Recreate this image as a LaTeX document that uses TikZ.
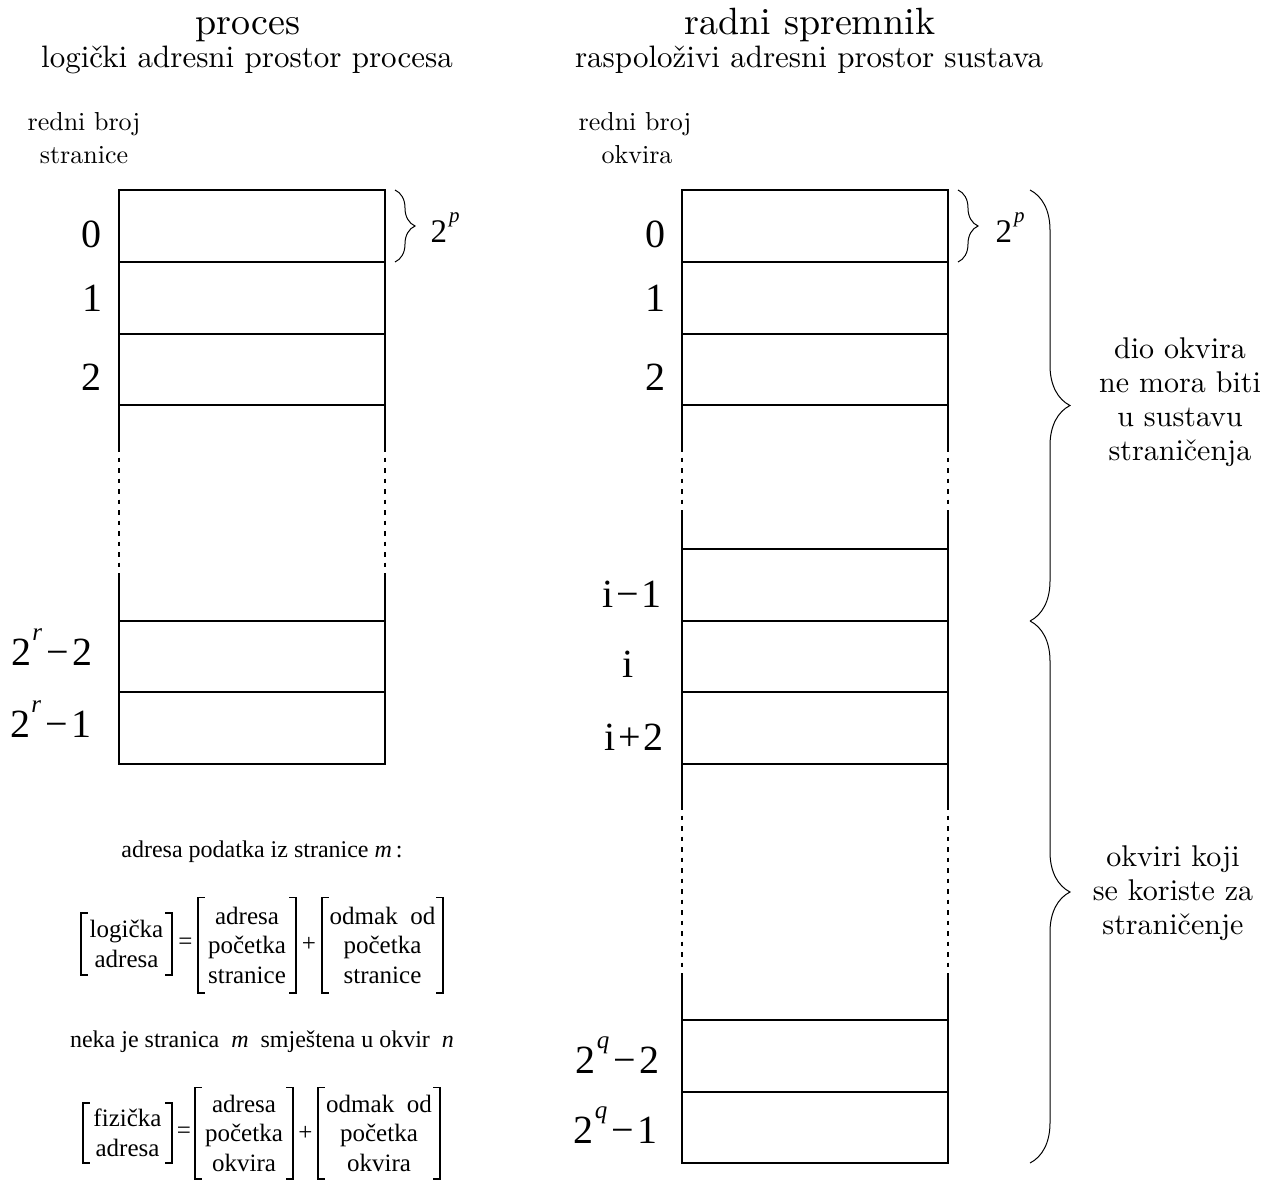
\documentclass[tikz,border=0pt]{standalone}
\usepackage{fontspec}
\newfontfamily\tnr{Liberation Serif}
\newfontfamily\lmten{lmroman10-regular}[Extension=.otf]
\usetikzlibrary{decorations.pathreplacing,calc}
\tikzset{
  x=1pt, y=-1pt,
  row/.style={draw, line width=1.8pt, minimum width=266pt, minimum height=#1, inner sep=0pt, outer sep=0pt},
  row/.default=72pt,
  side/.style={line width=1.8pt},
  dside/.style={line width=1.8pt, dash pattern=on 4.5pt off 6pt},
  num/.style={anchor=base, inner sep=0pt, font=\tnr\fontsize{40}{48}\selectfont},
  title/.style={anchor=base, inner sep=0pt, font=\lmten\fontsize{38}{46}\selectfont},
  subtitle/.style={anchor=base, inner sep=0pt, font=\lmten\fontsize{31}{37}\selectfont},
  hdr/.style={anchor=base, inner sep=0pt, align=center, font=\lmten\fontsize{26}{31}\selectfont},
  blabel/.style={anchor=north, inner sep=0pt, align=center, font=\lmten\fontsize{30}{34}\selectfont},
  brc/.style={decorate, decoration={brace, amplitude=#1}, line width=1pt},
  ftext/.style={anchor=base, inner sep=0pt, font=\tnr\fontsize{24}{29}\selectfont},
  cell/.style={inner xsep=0pt, inner ysep=0pt, minimum height=#1, font=\tnr\fontsize{25}{29.5}\selectfont, align=center},
  op/.style={inner sep=0pt, font=\tnr\fontsize{25}{30}\selectfont},
  brk/.style={line width=1.6pt}
}
\newcommand{\supx}[1]{\kern1pt\raisebox{0.62em}{\fontsize{25}{25}\selectfont\textit{#1}}}
\begin{document}
\begin{tikzpicture}
\useasboundingbox (0,0) rectangle (1269,1180);
% headings
\node[title] (tp) at (248,35) {proces};
\node[subtitle] (sp) at (247,68) {logički adresni prostor procesa};
\node[title] (tr) at (810,35) {radni spremnik};
\node[subtitle] (sr) at (809,68) {raspoloživi adresni prostor sustava};
\node[hdr] (hl1) at (84,131) {redni broj};
\node[hdr] (hl2) at (84,164) {stranice};
\node[hdr] (hr1) at (635,131) {redni broj};
\node[hdr] (hr2) at (637,164) {okvira};
% left column rows
\node[row] (L0) at (252,226) {};
\node[row] (L1) at (252,298) {};
\node[row=71pt] (L2) at (252,369.5) {};
\node[row=71pt] (Lr2) at (252,656.5) {};
\node[row] (Lr1) at (252,728) {};
% left gap
\coordinate (la1) at ($(L2.south west)+(0,42)$);
\coordinate (la2) at ($(Lr2.north west)+(0,-44)$);
\coordinate (lb1) at ($(L2.south east)+(0,42)$);
\coordinate (lb2) at ($(Lr2.north east)+(0,-44)$);
\draw[side] (L2.south west) -- (la1);
\draw[dside] (la1) -- (la2);
\draw[side] (la2) -- (Lr2.north west);
\draw[side] (L2.south east) -- (lb1);
\draw[dside] (lb1) -- (lb2);
\draw[side] (lb2) -- (Lr2.north east);
% right column rows
\node[row] (R0) at (815,226) {};
\node[row] (R1) at (815,298) {};
\node[row=71pt] (R2) at (815,369.5) {};
\node[row] (Ri1) at (815,585) {};
\node[row=71pt] (Ri) at (815,656.5) {};
\node[row] (Ri2) at (815,728) {};
\node[row] (Rq2) at (815,1056) {};
\node[row=71pt] (Rq1) at (815,1127.5) {};
% right gap 1
\coordinate (ra1) at ($(R2.south west)+(0,42)$);
\coordinate (ra2) at ($(Ri1.north west)+(0,-39)$);
\coordinate (rb1) at ($(R2.south east)+(0,42)$);
\coordinate (rb2) at ($(Ri1.north east)+(0,-39)$);
\draw[side] (R2.south west) -- (ra1);
\draw[dside] (ra1) -- (ra2);
\draw[side] (ra2) -- (Ri1.north west);
\draw[side] (R2.south east) -- (rb1);
\draw[dside] (rb1) -- (rb2);
\draw[side] (rb2) -- (Ri1.north east);
% right gap 2
\coordinate (rc1) at ($(Ri2.south west)+(0,41)$);
\coordinate (rc2) at ($(Rq2.north west)+(0,-43)$);
\coordinate (rd1) at ($(Ri2.south east)+(0,41)$);
\coordinate (rd2) at ($(Rq2.north east)+(0,-43)$);
\draw[side] (Ri2.south west) -- (rc1);
\draw[dside] (rc1) -- (rc2);
\draw[side] (rc2) -- (Rq2.north west);
\draw[side] (Ri2.south east) -- (rd1);
\draw[dside] (rd1) -- (rd2);
\draw[side] (rd2) -- (Rq2.north east);
% left numbers
\node[num] (nl0) at (91,247) {0};
\node[num] (nl1) at (92,311) {1};
\node[num] (nl2) at (91,390) {2};
\node[num] (nlr2) at (52,665) {2\supx{r}\kern4pt−\kern4pt2};
\node[num] (nlr1) at (51,737) {2\supx{r}\kern4pt−\kern4pt1};
% right numbers
\node[num] (nr0) at (655,247) {0};
\node[num] (nr1) at (655,311) {1};
\node[num] (nr2) at (655,390) {2};
\node[num] (nri1) at (632,607) {i\kern3pt−\kern3pt1};
\node[num] (nri) at (628,677) {i};
\node[num] (nri2) at (634,750) {i\kern3pt+\kern3pt2};
\node[num] (nrq2) at (618,1073) {2\supx{q}\kern4pt−\kern4pt2};
\node[num] (nrq1) at (616,1143) {2\supx{q}\kern4pt−\kern4pt1};
% small braces
\coordinate (bl1) at (395,190);
\coordinate (bl2) at (395,262);
\draw[brc=20pt] (bl1) -- (bl2);
\node[num, font=\tnr\fontsize{33}{40}\selectfont] (pl) at (445,242) {2\raisebox{0.6em}{\fontsize{21}{21}\selectfont\kern2pt\textit{p}}};
\coordinate (br1) at (958,190);
\coordinate (br2) at (958,262);
\draw[brc=20pt] (br1) -- (br2);
\node[num, font=\tnr\fontsize{33}{40}\selectfont] (pr) at (1010,242) {2\raisebox{0.6em}{\fontsize{21}{21}\selectfont\kern2pt\textit{p}}};
% large braces
\coordinate (g1) at (1030,190);
\coordinate (g2) at (1030,621);
\coordinate (g3) at (1030,1163);
\draw[brc=40pt] (g1) -- (g2);
\draw[brc=40pt] (g2) -- (g3);
\node[blabel] (lab1) at (1180,337) {dio okvira\\ne mora biti\\u sustavu\\straničenja};
\node[blabel] (lab2) at (1173,845) {okviri koji\\se koriste za\\straničenje};
% formula texts
\node[ftext] (f1) at (262,857) {adresa podatka iz stranice~\textit{m}\,:};
\node[ftext] (f2) at (262,1047) {neka je stranica\enspace\textit{m}\enspace smještena u okvir\enspace\textit{n}};
% equation 1
\node[cell=62pt, minimum width=91pt] (a1) at (126.5,944) {logička\\adresa};
\node[op] (e1) at (185.5,944) {=};
\node[cell=95pt, minimum width=98pt] (b1) at (247,945) {adresa\\početka\\stranice};
\node[op] (p1) at (309,944) {+};
\node[cell=95pt, minimum width=121pt] (c1) at (382.5,945) {odmak\enspace od\\početka\\stranice};
% equation 2
\node[cell=60pt, minimum width=89pt] (a2) at (127.5,1133) {fizička\\adresa};
\node[op] (e2) at (184,1133) {=};
\node[cell=91pt, minimum width=98pt] (b2) at (244,1133) {adresa\\početka\\okvira};
\node[op] (p2) at (305.5,1133) {+};
\node[cell=91pt, minimum width=122pt] (c2) at (379,1133) {odmak\enspace od\\početka\\okvira};
% brackets
\foreach \n in {a1,b1,c1,a2,b2,c2}{
  \draw[brk] ($(\n.north west)+(7,0)$) -- (\n.north west) -- (\n.south west) -- ++(7,0);
  \draw[brk] ($(\n.north east)+(-7,0)$) -- (\n.north east) -- (\n.south east) -- ++(-7,0);
}
\end{tikzpicture}
\end{document}
